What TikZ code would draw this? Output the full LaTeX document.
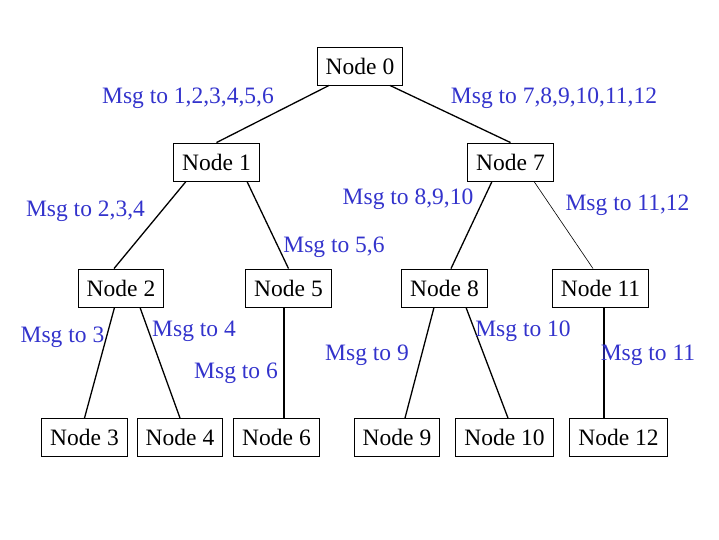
\documentclass[tikz,border=0pt]{standalone}
\usepackage{fontspec}
\setmainfont{Liberation Serif}
\usetikzlibrary{positioning}
\definecolor{colour_msg}{HTML}{3333CC}

\begin{document}
\begin{tikzpicture}[
    x=1pt, y=-1pt,
    font=\fontsize{23.5}{28}\selectfont,
    box/.style={rectangle, draw=black, line width=0.9pt, inner xsep=8.5pt,
                minimum height=38pt, align=center},
    msg/.style={text=colour_msg, inner sep=0pt, yshift=-2pt},
    link/.style={line width=1.3pt},
    thinlink/.style={line width=0.6pt}
]
\useasboundingbox (0,0) rectangle (719,539);

% Tree nodes
\node[box] (n0) at (360,66) {Node 0};
\node[box] (n1) at (216.5,162) {Node 1};
\node[box] (n7) at (510.5,162) {Node 7};
\node[box] (n2) at (121,288) {Node 2};
\node[box] (n5) at (288.5,288) {Node 5};
\node[box] (n8) at (444.5,288) {Node 8};
\node[box] (n11) at (600.5,288) {Node 11};
\node[box] (n3) at (84.5,437.5) {Node 3};
\node[box] (n4) at (180,437.5) {Node 4};
\node[box] (n6) at (276.5,437.5) {Node 6};
\node[box] (n9) at (397,437.5) {Node 9};
\node[box] (n10) at (504.5,437.5) {Node 10};
\node[box] (n12) at (618.5,437.5) {Node 12};

% Links
\draw[link] ([xshift=-31pt]n0.south) -- (n1.north);
\draw[link] ([xshift=30pt]n0.south) -- (n7.north);
\draw[link] ([xshift=-30.5pt]n1.south) -- ([xshift=-7pt]n2.north);
\draw[link] ([xshift=30.5pt]n1.south) -- (n5.north);
\draw[link] ([xshift=-18.5pt]n7.south) -- ([xshift=6.5pt]n8.north);
\draw[thinlink] ([xshift=23.5pt]n7.south) -- ([xshift=-7.5pt]n11.north);
\draw[link] ([xshift=-6.5pt]n2.south) -- (n3.north);
\draw[link] ([xshift=19pt]n2.south) -- (n4.north);
\draw[link] ([xshift=-4.5pt]n5.south) -- ([xshift=7.5pt]n6.north);
\draw[link] ([xshift=-10.5pt]n8.south) -- ([xshift=8pt]n9.north);
\draw[link] ([xshift=21.5pt]n8.south) -- ([xshift=3.5pt]n10.north);
\draw[link] ([xshift=3.5pt]n11.south) -- ([xshift=-14.5pt]n12.north);

% Message labels
\node[msg] (m1) at (188,96) {Msg to 1,2,3,4,5,6};
\node[msg] (m7) at (554,96) {Msg to 7,8,9,10,11,12};
\node[msg] (m2) at (85.5,209) {Msg to 2,3,4};
\node[msg] (m5) at (334,245) {Msg to 5,6};
\node[msg] (m8) at (408,197) {Msg to 8,9,10};
\node[msg] (m11) at (627.5,203) {Msg to 11,12};
\node[msg] (m3) at (62.5,335) {Msg to 3};
\node[msg] (m4) at (194,329) {Msg to 4};
\node[msg] (m6) at (236,371) {Msg to 6};
\node[msg] (m9) at (367,353) {Msg to 9};
\node[msg] (m10) at (523,329) {Msg to 10};
\node[msg] (m12) at (648,353) {Msg to 11};

\end{tikzpicture}
\end{document}
